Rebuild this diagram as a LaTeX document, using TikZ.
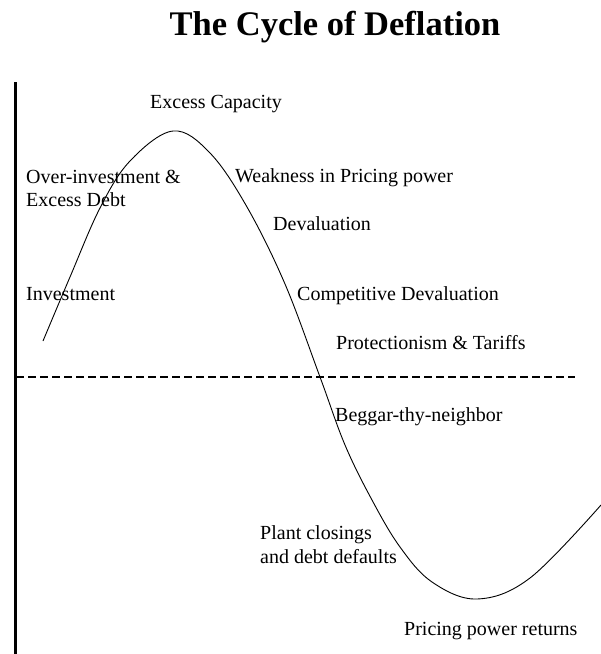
\documentclass[tikz,border=0pt]{standalone}
\usepackage{fontspec}
\setmainfont{Liberation Serif}
\begin{document}
\begin{tikzpicture}[x=1pt,y=-1pt,
  lbl/.style={anchor=base west,inner sep=0pt,font=\fontsize{20}{23}\selectfont},
  ttl/.style={anchor=base,inner sep=0pt,font=\bfseries\fontsize{34.5}{38}\selectfont},
  axisline/.style={line width=3pt},
  midline/.style={line width=1.2pt,dash pattern=on 8pt off 4pt},
  cycle/.style={line width=0.9pt}]
\useasboundingbox (0,0) rectangle (601,654);
\fill[white] (0,0) rectangle (601,654);
\node[ttl] (title) at (335,35) {The Cycle of Deflation};
\coordinate (axtop) at (15,82);
\coordinate (axbot) at (15,654);
\draw[axisline] (axtop) -- (axbot);
\coordinate (dl) at (16,377);
\coordinate (dr) at (575,377);
\draw[midline] (dl) -- (dr);
\draw[cycle] plot[smooth,tension=0.6] coordinates {(43,341) (70,277) (100,208) (130,161) (173,131) (210,153) (247,207) (285,284) (320,377) (345,445) (372,500) (400,547) (432,582) (477,599) (530,578) (601,505)};
\node[lbl] (exc) at (150,108) {Excess Capacity};
\node[lbl] (ovr1) at (26,183) {Over-investment \&};
\node[lbl] (ovr2) at (26,206) {Excess Debt};
\node[lbl] (inv) at (26,300) {Investment};
\node[lbl] (weak) at (235,182) {Weakness in Pricing power};
\node[lbl] (dev) at (273,230) {Devaluation};
\node[lbl] (comp) at (297,300) {Competitive Devaluation};
\node[lbl] (prot) at (336,349) {Protectionism \& Tariffs};
\node[lbl] (beg) at (335,421) {Beggar-thy-neighbor};
\node[lbl] (pl1) at (260,539) {Plant closings};
\node[lbl] (pl2) at (260,563) {and debt defaults};
\node[lbl] (ret) at (404,635) {Pricing power returns};
\end{tikzpicture}
\end{document}
